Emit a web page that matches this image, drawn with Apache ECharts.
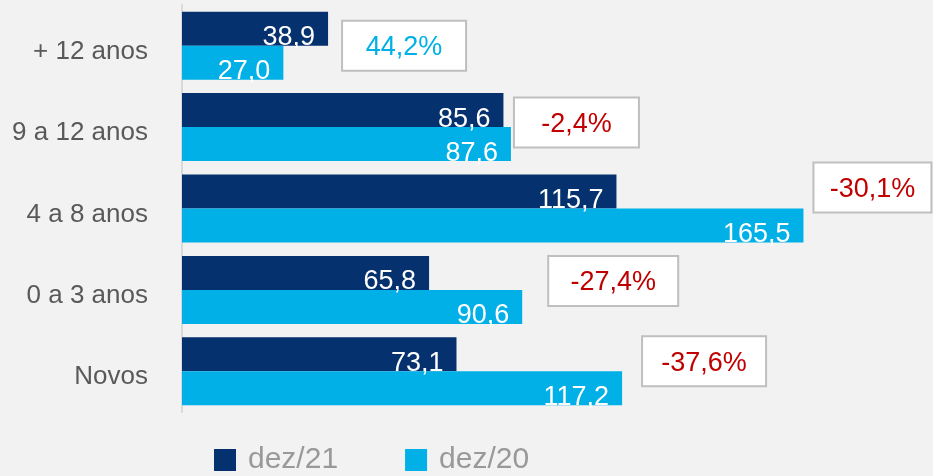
<!DOCTYPE html>
<html><head><meta charset="utf-8">
<script src="https://cdn.jsdelivr.net/npm/echarts@6/dist/echarts.min.js"></script>
<style>html,body{margin:0;padding:0;background:#f2f2f2}#c{width:933px;height:476px}</style>
</head><body><div id="c"></div>
<script>
const categories = ['Novos', '0 a 3 anos', '4 a 8 anos', '9 a 12 anos', '+ 12 anos'];
const dez21 = [73.1, 65.8, 115.7, 85.6, 38.9];
const dez20 = [117.2, 90.6, 165.5, 87.6, 27.0];
const changeLabels = ['-37,6%', '-27,4%', '-30,1%', '-2,4%', '44,2%'];
const seriesNames = ['dez/21', 'dez/20'];

// layout for the annotation boxes (pixels)
const boxDx = [20, 26, 10, 3, 14];
const boxDy = [-10, -9, -21, -4.5, 0];
const boxW = [124, 130, 118, 125, 124];
const boxH = 50;

const FONT = '"Liberation Sans", Arial, sans-serif';
const chart = echarts.init(document.getElementById('c'), null, {renderer: 'canvas'});

const labelCfg = {
  show: true, position: 'insideRight', distance: 13, offset: [0, 9],
  color: '#ffffff', fontSize: 27, fontFamily: FONT,
  formatter: p => p.value.toFixed(1).replace('.', ',')
};

chart.setOption({
  backgroundColor: '#f2f2f2',
  animation: false,
  grid: {left: 182, right: 0, top: 5, bottom: 64},
  legend: {
    data: seriesNames, left: 214, top: 445, padding: 0, icon: 'rect', itemWidth: 22, itemHeight: 22, itemGap: 67,
    textStyle: {fontSize: 30, color: '#999999', fontFamily: FONT, padding: [0, 0, 0, 7]}
  },
  xAxis: {type: 'value', min: 0, max: 200, show: false},
  yAxis: {
    type: 'category', data: categories,
    axisLine: {show: true, lineStyle: {color: '#d9d9d9', width: 2}},
    axisTick: {show: false},
    axisLabel: {
      margin: 34,
      formatter: v => '{a|' + v + '}',
      rich: {a: {fontSize: 26, color: '#595959', fontFamily: FONT, padding: [12, 0, 0, 0]}}
    }
  },
  series: [
    {name: seriesNames[0], type: 'bar', data: dez21, barWidth: 34, barGap: '0%',
     itemStyle: {color: '#05316f'}, label: labelCfg},
    {name: seriesNames[1], type: 'bar', data: dez20, barWidth: 34, barGap: '0%',
     itemStyle: {color: '#00b0e6'}, label: labelCfg},
    {name: 'var', type: 'custom', z: 5,
     data: categories.map((c, i) => [Math.max(dez21[i], dez20[i]), i]),
     renderItem: function (params, api) {
       const i = params.dataIndex;
       const p = api.coord([api.value(0), api.value(1)]);
       const w = boxW[i];
       const x = p[0] + boxDx[i];
       const y = p[1] + boxDy[i] - boxH / 2;
       const txt = changeLabels[i];
       return {type: 'group', children: [
         {type: 'rect', shape: {x: x, y: y, width: w, height: boxH},
          style: {fill: '#ffffff', stroke: '#bfbfbf', lineWidth: 2}},
         {type: 'text', style: {text: txt, x: x + w / 2, y: y + boxH / 2 + 2, align: 'center', verticalAlign: 'middle',
          fill: txt.charAt(0) === '-' ? '#c00000' : '#00b0e6', fontSize: 27, fontFamily: FONT}}
       ]};
     }}
  ]
});
</script></body></html>
